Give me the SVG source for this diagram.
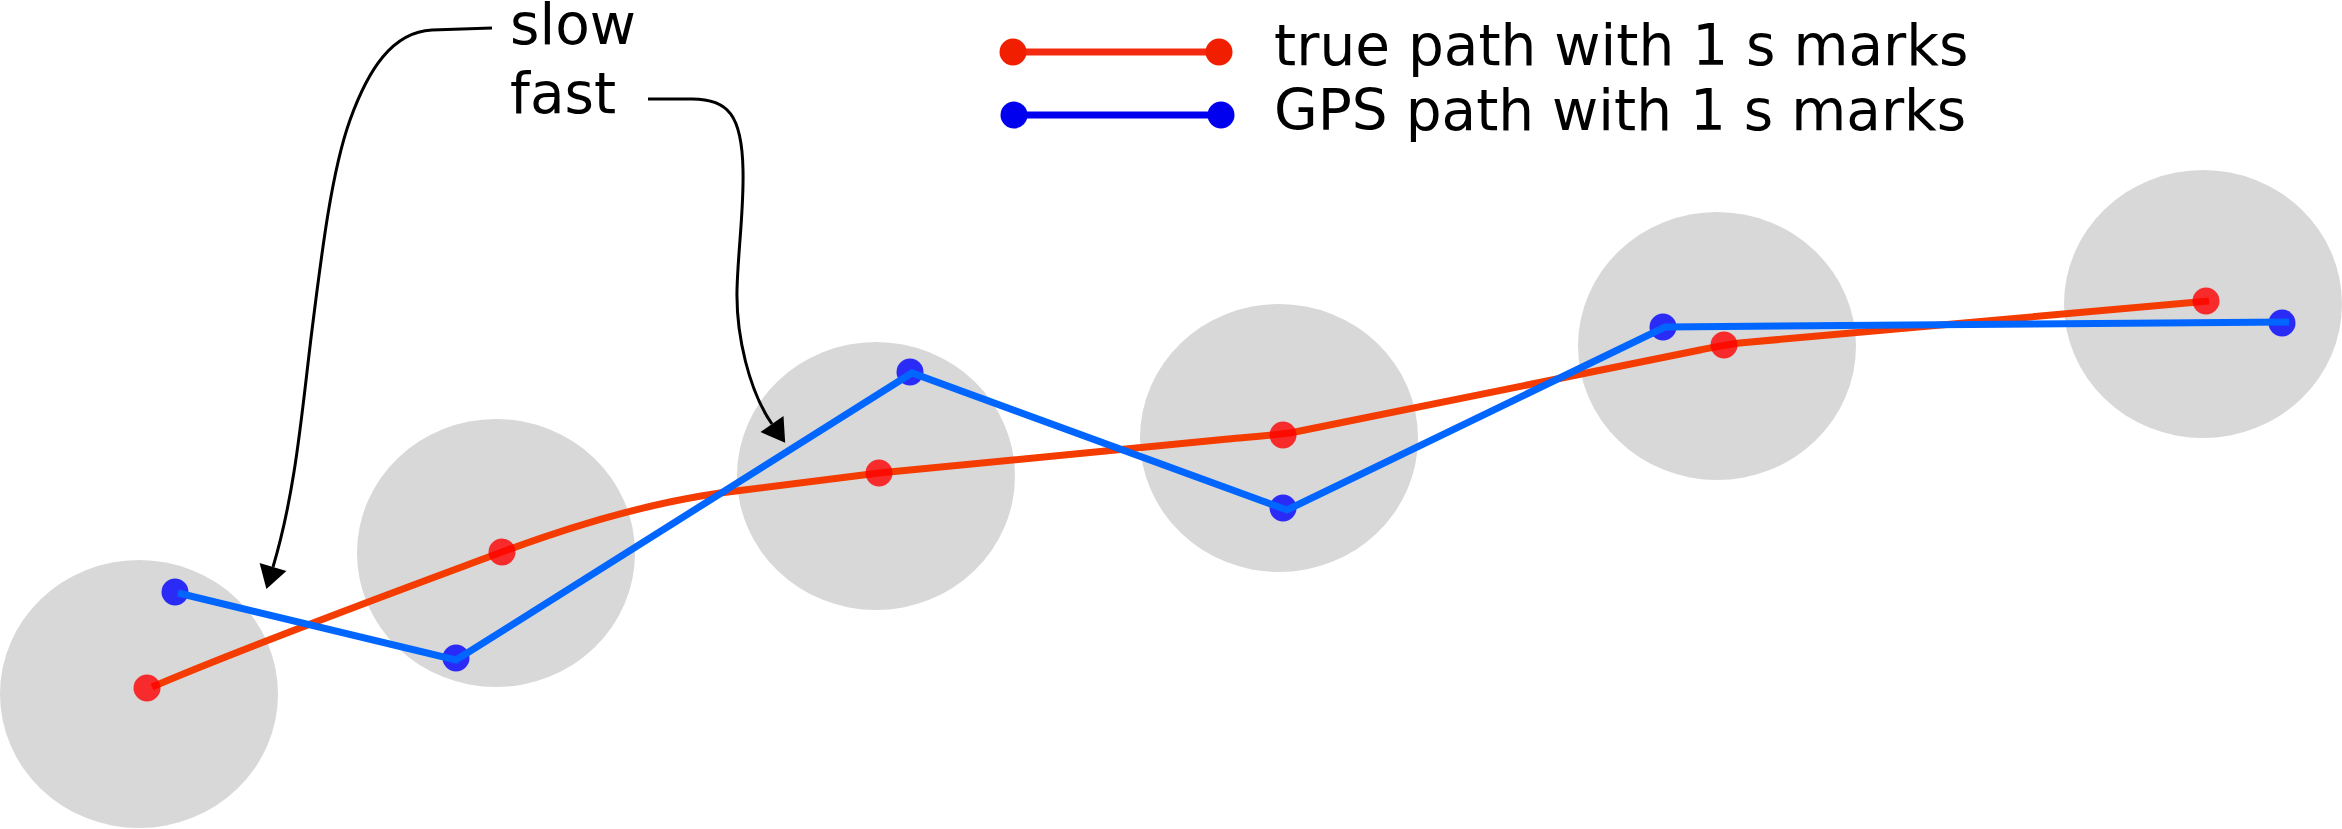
<svg xmlns="http://www.w3.org/2000/svg" width="2342" height="829" viewBox="0 0 2342 829">
<style>
.zone{fill:#d8d8d8}
.tdot{fill:#ff0000;fill-opacity:0.8}
.gdot{fill:#0000ff;fill-opacity:0.8}
.tpath{fill:none;stroke:#f43b00;stroke-width:7;stroke-linejoin:round}
.gpath{fill:none;stroke:#0066ff;stroke-width:7;stroke-linejoin:miter}
.lbl{font-family:"DejaVu Sans",sans-serif;font-size:56.5px;fill:#000}
.ann{fill:none;stroke:#000;stroke-width:3}
</style>
<defs>
<marker id="arrow" markerUnits="userSpaceOnUse" markerWidth="30" markerHeight="30" refX="0" refY="14" orient="auto" overflow="visible">
<path d="M0,0 L23,14 L0,28 z" fill="#000"/>
</marker>
</defs>
<g id="zones">
<g id="zone1"><ellipse class="zone" cx="139" cy="694" rx="139" ry="134"/></g>
<g id="zone2"><ellipse class="zone" cx="496" cy="553" rx="139" ry="134"/></g>
<g id="zone3"><ellipse class="zone" cx="876" cy="476" rx="139" ry="134"/></g>
<g id="zone4"><ellipse class="zone" cx="1279" cy="438" rx="139" ry="134"/></g>
<g id="zone5"><ellipse class="zone" cx="1717" cy="346" rx="139" ry="134"/></g>
<g id="zone6"><ellipse class="zone" cx="2203" cy="304" rx="139" ry="134"/></g>
</g>
<g id="true-path">
<path class="tpath" d="M152,687 C250,645 400,590 502,552 C580,523 650,503 720,493 L879,473 L1228,439 C1250,437 1266,436 1290,433 L1700,350 C1715,347 1728,344 1745,342.5 L2209,301"/>
<circle class="tdot" cx="147" cy="688" r="13.5"/>
<circle class="tdot" cx="502" cy="552" r="13.5"/>
<circle class="tdot" cx="879" cy="473" r="13.5"/>
<circle class="tdot" cx="1283" cy="435" r="13.5"/>
<circle class="tdot" cx="1724" cy="345" r="13.5"/>
<circle class="tdot" cx="2206" cy="301" r="13.5"/>
</g>
<g id="gps-path">
<circle class="gdot" cx="175" cy="592" r="13.5"/>
<circle class="gdot" cx="456" cy="658" r="13.5"/>
<circle class="gdot" cx="910" cy="372" r="13.5"/>
<circle class="gdot" cx="1283" cy="508" r="13.5"/>
<circle class="gdot" cx="1663" cy="327" r="13.5"/>
<circle class="gdot" cx="2282" cy="323" r="13.5"/>
<path class="gpath" d="M178,593 L456,660 L912,373 L1287,510 L1665,327 L2289,322"/>
</g>
<g id="legend">
<g id="legend-true">
<line x1="1013" y1="52" x2="1219" y2="52" stroke="#f42a10" stroke-width="7"/>
<circle cx="1013" cy="52" r="13.5" fill="#f21e00"/>
<circle cx="1219" cy="52" r="13.5" fill="#f21e00"/>
<text class="lbl" x="1274" y="65">true path with 1 s marks</text>
</g>
<g id="legend-gps">
<line x1="1014" y1="115" x2="1221" y2="115" stroke="#0000f0" stroke-width="7"/>
<circle cx="1014" cy="115" r="13.5" fill="#0000ee"/>
<circle cx="1221" cy="115" r="13.5" fill="#0000ee"/>
<text class="lbl" x="1274" y="130">GPS path with 1 s marks</text>
</g>
</g>
<g id="label-slow"><text class="lbl" x="510" y="44">slow</text></g>
<g id="label-fast"><text class="lbl" x="510" y="113">fast</text></g>
<g id="connectors">
<path class="ann" marker-end="url(#arrow)" d="M492,28 L432,30 C392,32 368,70 350,120 C332,170 322,250 312,330 C302,410 296,490 273,567"/>
<path class="ann" marker-end="url(#arrow)" d="M648,99 L692,99 C728,99 742,115 743,170 C744,210 738,250 737,290 C736,335 749,391 772,424"/>
</g>
</svg>
